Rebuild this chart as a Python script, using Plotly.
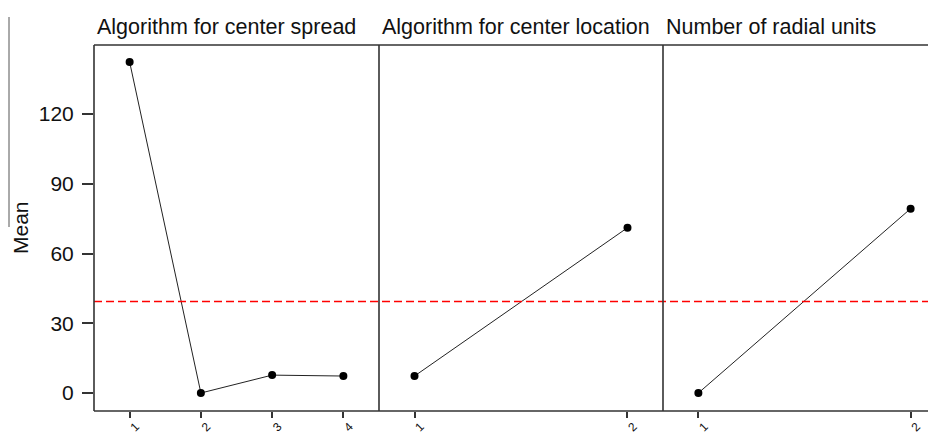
import plotly.graph_objects as go

# ---- data ----
panel_titles = ["Algorithm for center spread", "Algorithm for center location", "Number of radial units"]
spread_levels = ["1", "2", "3", "4"]
spread_means = [142.4, 0.0, 7.7, 7.3]
location_levels = ["1", "2"]
location_means = [7.3, 71.1]
radial_levels = ["1", "2"]
radial_means = [0.0, 79.3]
grand_mean = 39.4
y_ticks = [0, 30, 60, 90, 120]

# page body has an 8px margin: work in window pixels and convert
OFF = 8
W, H = 936, 435
ML = 94 - OFF
MT = 45 - OFF
MB = H - (411 - OFF)
MR = W - (936 - OFF)
PW = W - ML - MR
PH = H - MT - MB

def px_x(xw):
    return (xw - OFF - ML) / PW

def px_y(yw):
    return (H - MB - (yw - OFF)) / PH

d1 = px_x(379)
d2 = px_x(663)
domains = [[0, d1], [d1, d2], [d2, 1]]

font_main = "Liberation Sans, Arial, sans-serif"
line_col = "#333333"

fig = go.Figure()
series = [(spread_levels, spread_means), (location_levels, location_means), (radial_levels, radial_means)]
for i, (lv, mv) in enumerate(series):
    xa = "x" if i == 0 else f"x{i+1}"
    fig.add_trace(go.Scatter(
        x=lv, y=mv, xaxis=xa, yaxis="y", mode="lines+markers",
        line=dict(color="#222222", width=1),
        marker=dict(color="black", size=8),
        showlegend=False, hoverinfo="x+y", cliponaxis=False,
    ))

ranges = [[-0.5, 3.5], [-0.1667, 1.1667], [-0.1667, 1.1196]]
xcommon = dict(
    type="category", showgrid=False, zeroline=False, showline=False,
    ticks="outside", ticklen=6, tickwidth=1.5, tickcolor=line_col,
    tickangle=-45, tickfont=dict(family=font_main, size=12, color="#111"),
    ticklabelstandoff=-3, ticklabelshift=6,
    anchor="y", fixedrange=True, automargin=False,
)
fig.update_layout(
    xaxis=dict(domain=domains[0], range=ranges[0], **xcommon),
    xaxis2=dict(domain=domains[1], range=ranges[1], **xcommon),
    xaxis3=dict(domain=domains[2], range=ranges[2], **xcommon),
    yaxis=dict(
        range=[-7.74, 149.7], tickvals=y_ticks, showgrid=False, zeroline=False,
        showline=False, ticks="outside", ticklen=11, tickwidth=1.5, tickcolor=line_col,
        tickfont=dict(family=font_main, size=21, color="#111"), ticklabelstandoff=4,
        anchor="x", fixedrange=True, automargin=False,
    ),
    width=W, height=H,
    margin=dict(l=ML, r=MR, t=MT, b=MB, pad=0, autoexpand=False),
    plot_bgcolor="white", paper_bgcolor="white",
)

shapes = []
# reference (grand mean) line
shapes.append(dict(type="line", xref="paper", yref="y", x0=0, x1=1, y0=grand_mean, y1=grand_mean,
                   line=dict(color="#ff0000", width=1.5, dash="8px,4px")))
# frame lines
lw = 1.6
shapes.append(dict(type="line", xref="paper", yref="paper", x0=0, x1=1, y0=1, y1=1, line=dict(color=line_col, width=lw)))
shapes.append(dict(type="line", xref="paper", yref="paper", x0=0, x1=1, y0=0, y1=0, line=dict(color=line_col, width=lw)))
for xv in [0, d1, d2]:
    shapes.append(dict(type="line", xref="paper", yref="paper", x0=xv, x1=xv, y0=0, y1=1, line=dict(color=line_col, width=lw)))
# overbar of the y label
shapes.append(dict(type="line", xref="paper", yref="paper", x0=px_x(9), x1=px_x(9), y0=px_y(227), y1=px_y(17),
                   line=dict(color="#555", width=1)))
fig.update_layout(shapes=shapes)

annotations = []
starts = [0, d1, d2]
for t, s in zip(panel_titles, starts):
    annotations.append(dict(text=t, xref="paper", yref="paper", x=s, y=1, xanchor="left", yanchor="bottom",
                            xshift=1, yshift=4, showarrow=False,
                            font=dict(family=font_main, size=21.5, color="#111")))
annotations.append(dict(text="Mean", xref="paper", yref="paper", x=px_x(20), y=px_y(228), textangle=-90,
                        xanchor="center", yanchor="middle", showarrow=False,
                        font=dict(family=font_main, size=21, color="#111")))
fig.update_layout(annotations=annotations)

fig.write_html("out.html")
